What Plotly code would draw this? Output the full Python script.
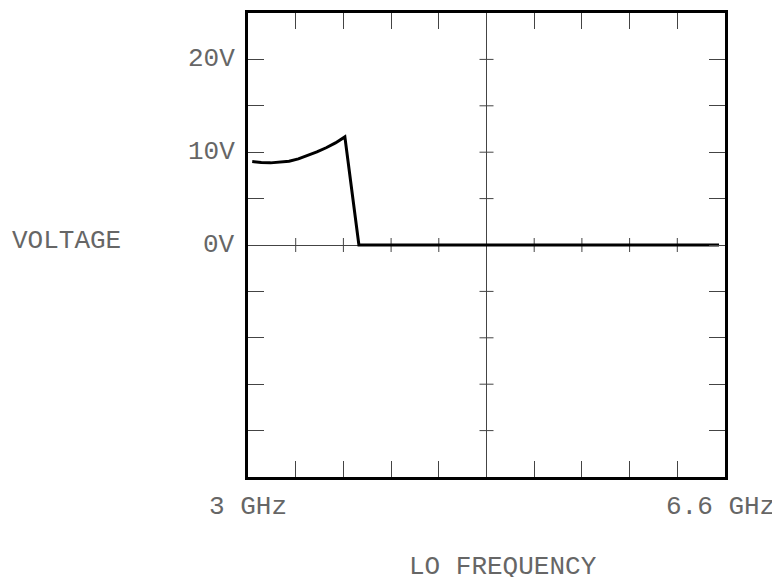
import plotly.graph_objects as go

# Data
freq_ghz = [3.032, 3.10, 3.17, 3.24, 3.31, 3.38, 3.45, 3.52, 3.59, 3.66, 3.731, 3.837, 6.555]
voltage_v = [9.0, 8.88, 8.85, 8.9, 9.03, 9.28, 9.63, 10.03, 10.48, 11.0, 11.65, 0.0, 0.0]

x_ticks = [3.0 + 0.36 * i for i in range(11)]
y_ticks = [-25, -20, -15, -10, -5, 0, 5, 10, 15, 20, 25]
y_label_vals = [0, 10, 20]
y_label_text = ["0V", "10V", "20V"]
x_label_vals = [3.0, 6.6]
x_label_text = ["3 GHz", "6.6 GHz"]
x_title = "LO FREQUENCY"
y_title = "VOLTAGE"

FONT = "Liberation Mono"
FS = 26
TXT = "#666666"
TICK = "#444444"

fig = go.Figure()
fig.add_trace(go.Scatter(x=freq_ghz, y=voltage_v, mode="lines",
                         line=dict(color="black", width=3), hoverinfo="skip",
                         showlegend=False))

axis_common = dict(showgrid=False, ticks="inside", ticklen=16, tickwidth=1,
                   tickcolor=TICK, showline=True, linecolor="black", linewidth=3,
                   mirror="ticks", showticklabels=False)
fig.update_xaxes(range=[3.0, 6.6], tickvals=x_ticks, zeroline=False, **axis_common)
fig.update_yaxes(range=[-25, 25], tickvals=y_ticks, zeroline=True,
                 zerolinecolor=TICK, zerolinewidth=1, **axis_common)

shapes = []
x_center = (x_ticks[0] + x_ticks[-1]) / 2
shapes.append(dict(type="line", xref="x", yref="paper", x0=x_center, x1=x_center,
                   y0=0, y1=1, line=dict(color=TICK, width=1), layer="below"))
for v in y_ticks[1:-1]:
    shapes.append(dict(type="line", xref="x", yref="y", xsizemode="pixel",
                       xanchor=x_center, x0=-7, x1=7, y0=v, y1=v,
                       line=dict(color=TICK, width=1), layer="below"))
for v in x_ticks[1:-1]:
    shapes.append(dict(type="line", xref="x", yref="y", ysizemode="pixel",
                       yanchor=0, y0=-7, y1=7, x0=v, x1=v,
                       line=dict(color=TICK, width=1), layer="below"))

font = dict(family=FONT, size=FS, color=TXT)
annotations = []
for v, t in zip(y_label_vals, y_label_text):
    annotations.append(dict(x=0, xref="paper", y=v, yref="y", text=t, showarrow=False,
                            xanchor="right", yanchor="middle", xshift=-11, font=font))
for v, t, xs in zip(x_label_vals, x_label_text, [0, -5]):
    annotations.append(dict(x=v, xref="x", y=0, yref="paper", text=t, showarrow=False,
                            xanchor="center", yanchor="middle", yshift=-30, xshift=xs,
                            font=font))
annotations.append(dict(x=0.5, xref="paper", y=0, yref="paper", text=x_title,
                        showarrow=False, xanchor="center", yanchor="middle", yshift=-90,
                        xshift=16, height=20, font=font))
annotations.append(dict(x=0, xref="paper", y=0, yref="y", text=y_title,
                        showarrow=False, xanchor="left", yanchor="middle", xshift=-238,
                        yshift=4, font=font))

# The page body has an 8px margin, so the figure is shrunk and margins reduced by 8px
fig.update_layout(width=772, height=573, margin=dict(l=240, r=55, t=2, b=104),
                  plot_bgcolor="white", paper_bgcolor="white",
                  shapes=shapes, annotations=annotations)

fig.write_html("out.html")
